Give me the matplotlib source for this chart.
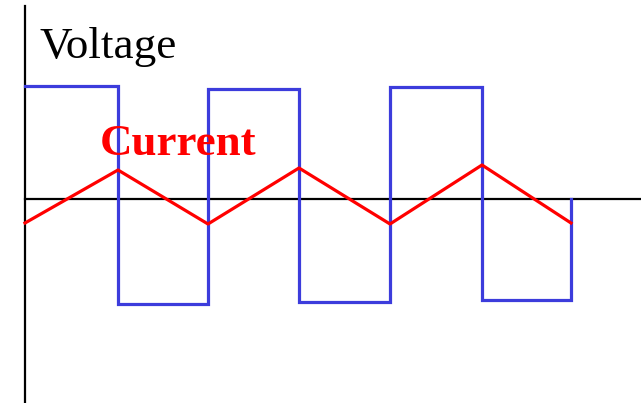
import numpy as np
import matplotlib
matplotlib.use("Agg")
import matplotlib.pyplot as plt

# switching instants (time units)
t_edges = [0, 93, 183, 274, 365, 457, 546]
# voltage level in each half period
v_levels = [113, -105, 110, -103, 112, -101]
# current values at the switching instants (triangle wave vertices)
i_vertices = [-24, 29, -25, 31, -25, 34, -24]

fig = plt.figure(figsize=(6.41, 4.03), dpi=100)
ax = fig.add_axes([0, 0, 1, 1])
ax.set_xlim(-25, 616)
ax.set_ylim(-204, 199)

# axes through origin
for s in ["top", "right"]:
    ax.spines[s].set_visible(False)
ax.spines["left"].set_position(("data", 0))
ax.spines["bottom"].set_position(("data", 0))
ax.spines["left"].set_bounds(-204, 193)
ax.spines["bottom"].set_bounds(0, 616)
ax.spines["left"].set_linewidth(1.6)
ax.spines["bottom"].set_linewidth(1.6)
ax.set_xticks([])
ax.set_yticks([])

# voltage square wave
vx = [t_edges[0]]
vy = [v_levels[0]]
for k in range(1, len(t_edges)):
    vx.append(t_edges[k]); vy.append(v_levels[k - 1])
    nxt = v_levels[k] if k < len(v_levels) else 0
    vx.append(t_edges[k]); vy.append(nxt)
ax.plot(vx, vy, color="#3c3cdc", lw=2.3, zorder=3, solid_joinstyle="miter")

# current triangle wave
ax.plot(t_edges, i_vertices, color="#ff0000", lw=2.3, zorder=4)

ax.text(14, 141, "Voltage", family="Liberation Serif", fontsize=32.5,
        color="black", va="baseline", ha="left")
ax.text(75, 44, "Current", family="Liberation Serif", fontsize=32.3,
        fontweight="bold", color="#ff0000", va="baseline", ha="left", zorder=5)

fig.savefig("out.png", dpi=100)
